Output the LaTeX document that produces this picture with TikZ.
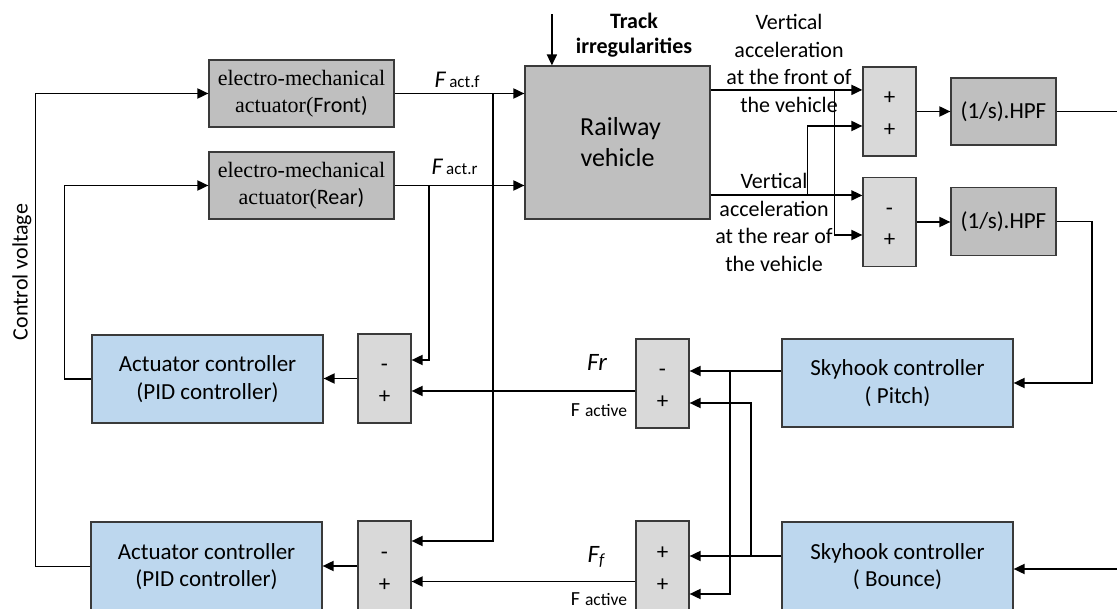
\documentclass[tikz,border=0pt]{standalone}
\usepackage{fontspec}
\setmainfont{Carlito}
\newfontfamily\tnr{Liberation Serif}
\usetikzlibrary{arrows.meta,calc}
\definecolor{boxgray}{HTML}{BFBFBF}
\definecolor{sumgray}{HTML}{D9D9D9}
\definecolor{ctrlblue}{HTML}{BDD7EE}
\definecolor{bordc}{HTML}{3A3A3A}
\tikzset{
  box/.style={draw=bordc, line width=1.2pt, inner sep=0pt, align=center},
  graybox/.style={box, fill=boxgray},
  sumbox/.style={box, fill=sumgray, minimum width=53pt, minimum height=89pt},
  bluebox/.style={box, fill=ctrlblue, minimum width=231pt, minimum height=88pt,
    font=\fontsize{23}{27.6}\selectfont},
  conn/.style={line width=1.8pt, draw=black},
  arr/.style={conn, -{Triangle[length=11pt,width=10pt]}},
  sign/.style={inner sep=0pt, text height=16pt, text depth=0pt, font=\fontsize{23}{27}\selectfont},
  lbl/.style={inner sep=0pt, anchor=base, font=\fontsize{22}{26}\selectfont},
}
\begin{document}
\begin{tikzpicture}[x=1pt,y=-1pt]
\useasboundingbox[fill=white] (0,0) rectangle (1117,609);

% ---- blocks ----
\node[graybox, minimum width=185pt, minimum height=67pt, font=\fontsize{22}{26.5}\selectfont]
  (actF) at (301.5,93.5) {{\tnr electro-mechanical}\\{\tnr actuator(}Front)};
\node[graybox, minimum width=185pt, minimum height=67pt, font=\fontsize{22}{26.5}\selectfont]
  (actR) at (301.5,185.5) {{\tnr electro-mechanical}\\{\tnr actuator(}Rear)};
\node[graybox, minimum width=185pt, minimum height=153pt, font=\fontsize{26}{31}\selectfont]
  (rail) at (617.5,142.5) {\hspace*{6pt}Railway\\vehicle};
\node[sumbox] (sum1) at (889.5,111.5) {};
\node[sumbox] (sum2) at (889.5,222) {};
\node[graybox, minimum width=105pt, minimum height=67pt, font=\fontsize{23}{27}\selectfont]
  (hpf1) at (1003.5,111.5) {(1/s).HPF};
\node[graybox, minimum width=105pt, minimum height=68pt, font=\fontsize{23}{27}\selectfont]
  (hpf2) at (1003.5,221.5) {(1/s).HPF};
\node[bluebox] (ctrl1) at (207.5,379) {Actuator controller\\(PID controller)};
\node[bluebox, minimum height=89pt] (ctrl2) at (206.5,566.5) {Actuator controller\\(PID controller)};
\node[sumbox] (sum3) at (384.5,378.5) {};
\node[sumbox, minimum height=90pt] (sum4) at (384.5,566) {};
\node[sumbox] (sum5) at (662.5,383.5) {};
\node[sumbox, minimum height=90pt] (sum6) at (662.5,566) {};
\node[bluebox] (pitch) at (897.5,383) {Skyhook controller\\( Pitch)};
\node[bluebox, minimum height=89pt] (bounce) at (897.5,566.5) {Skyhook controller\\( Bounce)};

% ---- signs ----
\node[sign] (s1a) at ($(sum1)+(0,-14.5)$) {+};
\node[sign] (s1b) at ($(sum1)+(0,17)$) {+};
\node[sign] (s2a) at ($(sum2)+(0,-14.5)$) {-};
\node[sign] (s2b) at ($(sum2)+(0,17)$) {+};
\node[sign] (s3a) at ($(sum3)+(0,-14.5)$) {-};
\node[sign] (s3b) at ($(sum3)+(0,17)$) {+};
\node[sign] (s4a) at ($(sum4)+(0,-14.5)$) {-};
\node[sign] (s4b) at ($(sum4)+(0,17)$) {+};
\node[sign] (s5a) at ($(sum5)+(0,-14.5)$) {-};
\node[sign] (s5b) at ($(sum5)+(0,17)$) {+};
\node[sign] (s6a) at ($(sum6)+(0,-14.5)$) {+};
\node[sign] (s6b) at ($(sum6)+(0,17)$) {+};

% ---- labels ----
\node[lbl] (lff) at (457,87.5) {{\fontsize{24}{27}\selectfont\itshape F}\,{\fontsize{17}{20}\selectfont act.f}};
\node[lbl] (lfr) at (454.5,175) {{\fontsize{24}{27}\selectfont\itshape F}\,{\fontsize{17}{20}\selectfont act.r}};
\node[lbl, font=\fontsize{22}{26}\selectfont\bfseries] (tr1) at (634,28.5) {Track};
\node[lbl, font=\fontsize{22}{26}\selectfont\bfseries] (tr2) at (634,54) {irregularities};
\node[lbl] (vf1) at (789,30) {Vertical};
\node[lbl] (vf2) at (789,57.5) {acceleration};
\node[lbl] (vf3) at (789,85) {at the front of};
\node[lbl] (vf4) at (789,112.5) {the vehicle};
\node[lbl] (vr1) at (774,189) {Vertical};
\node[lbl] (vr2) at (774,216.5) {acceleration};
\node[lbl] (vr3) at (774,244) {at the rear of};
\node[lbl] (vr4) at (774,271.5) {the vehicle};
\node[lbl, font=\fontsize{25}{28}\selectfont\itshape] (lFr) at (597,371) {Fr};
\node[lbl] (lFa1) at (599,416.5) {{\fontsize{20}{24}\selectfont F} {\fontsize{17.5}{21}\selectfont active}};
\node[lbl, font=\fontsize{25}{28}\selectfont\itshape] (lFf) at (596,562) {F{\fontsize{17}{20}\selectfont\raisebox{-3pt}{f}}};
\node[lbl] (lFa2) at (599,605) {{\fontsize{20}{24}\selectfont F} {\fontsize{17.5}{21}\selectfont active}};
\node[inner sep=0pt, rotate=90, font=\fontsize{22}{26}\selectfont] (cv) at (22,272) {Control voltage};

% ---- connectors ----
% control voltage and rear actuator command
\draw[arr] (ctrl2.west) -- ++(-55,0) |- (actF.west);
\draw[arr] (ctrl1.west) -- ++(-27,0) |- (actR.west);
% actuator forces
\draw[arr] (actF.east) -- (actF.east -| rail.west);
\draw[arr] (actR.east) -- (actR.east -| rail.west);
\draw[arr] ($(actF.east)+(98.5,0)$) |- ($(sum4.east)+(0,-25)$);
\draw[arr] ($(actR.east)+(34,0)$) |- ($(sum3.east)+(0,-18.5)$);
% track irregularities
\coordinate (trk) at ($(rail.north west)+(27.5,-51)$);
\draw[arr] (trk) -- (trk |- rail.north);
% vehicle outputs
\coordinate (vfo) at ($(rail.north east)+(0,24.5)$);
\coordinate (vro) at ($(rail.north east)+(0,130)$);
\draw[arr] (vfo) -- (vfo -| sum1.west);
\draw[arr] (vro) -- (vro -| sum2.west);
\draw[arr] ($(vfo -| sum1.west)+(-28,0)$) |- ($(sum2.west)+(0,13)$);
\draw[arr] ($(vro -| sum2.west)+(-55,0)$) |- ($(sum1.west)+(0,14.5)$);
% filters
\draw[arr] (sum1.east) -- (hpf1.west);
\draw[arr] (sum2.east) -- (sum2.east -| hpf2.west);
\coordinate (outF) at (1117,111.5);
\draw[conn] (hpf1.east) -- (outF);
\draw[arr] (hpf2.east) -- ++(35,0) |- (pitch.east);
\coordinate (inB) at (1117,569);
\draw[arr] (inB) -- (inB -| bounce.east);
% skyhook outputs
\coordinate (po) at ($(pitch.west)+(0,-12)$);
\coordinate (bo) at ($(bounce.west)+(0,-10.5)$);
\draw[arr] (po) -- (po -| sum5.east);
\draw[arr] (bo) -- (bo -| sum6.east);
\draw[arr] ($(po -| sum5.east)+(40,0)$) |- ($(sum6.east)+(0,28)$);
\draw[arr] ($(bo -| sum6.east)+(61,0)$) |- ($(sum5.east)+(0,19.5)$);
% active forces to PID sums
\draw[arr] ($(sum5.west)+(0,7.5)$) -- ($(sum3.east)+(0,12.5)$);
\draw[arr] ($(sum6.west)+(0,15.5)$) -- ($(sum4.east)+(0,15.5)$);
\draw[arr] (sum3.west) -- (sum3.west -| ctrl1.east);
\draw[arr] (sum4.west) -- (sum4.west -| ctrl2.east);
\end{tikzpicture}
\end{document}
